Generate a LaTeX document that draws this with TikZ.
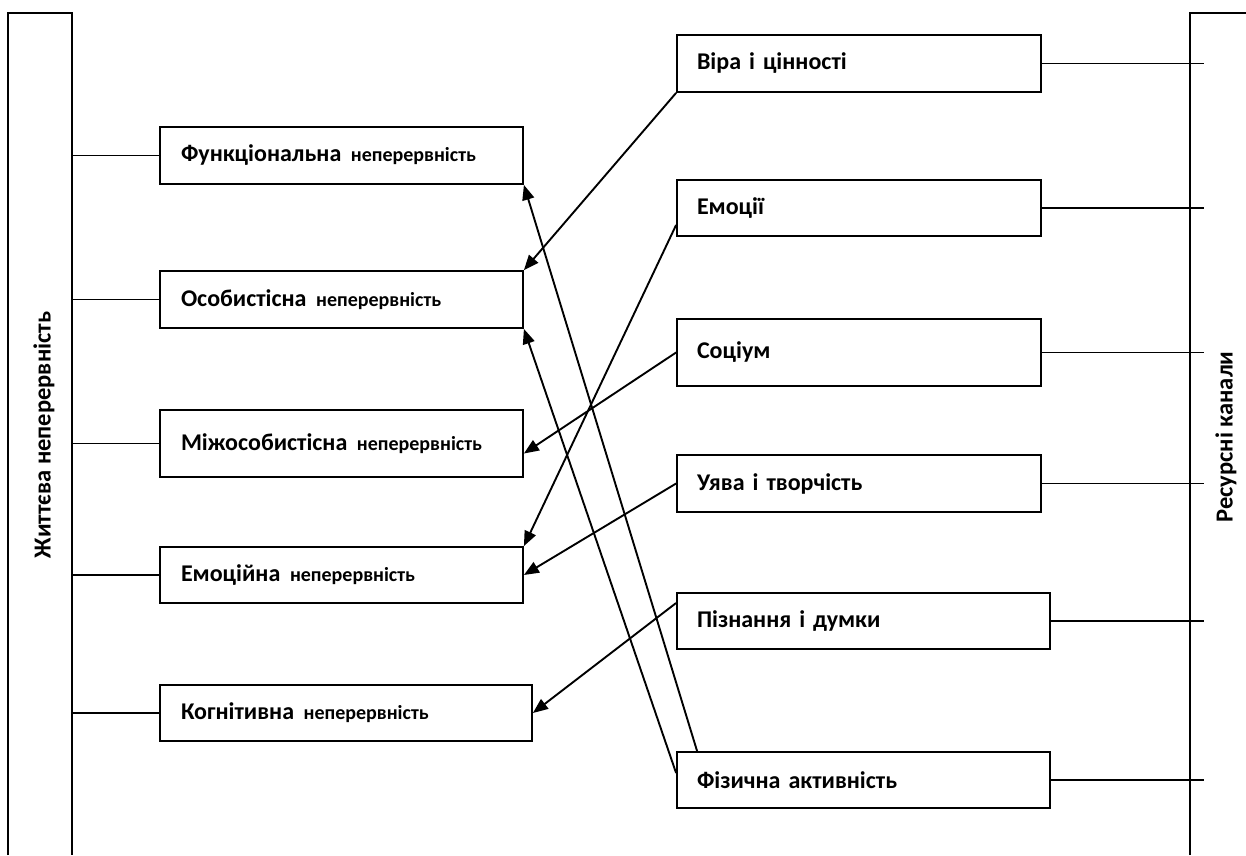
\documentclass[tikz,border=0pt]{standalone}
\usepackage{fontspec}
\setmainfont{Carlito}
\usepackage{tikz}
\usetikzlibrary{arrows.meta}
\newcommand{\nep}{\hspace{0.4em}{\fontsize{20}{23}\selectfont неперервність}}

\begin{document}
\begin{tikzpicture}[
  x=1pt,y=-1pt,
  cbox/.style={rectangle,draw,line width=1.8pt,minimum width=363pt,minimum height=57pt,
               inner xsep=21pt,text width=321pt,align=left,
               font=\bfseries\fontsize{24}{27}\selectfont},
  rbox/.style={cbox,inner xsep=20pt,text width=324pt},
  side/.style={rotate=90,font=\bfseries\fontsize{24.5}{27}\selectfont},
  link/.style={line width=1.9pt,-{Triangle[length=15pt,width=12pt]}},
  tick/.style={line width=1.5pt}
]
\useasboundingbox (0,0) rectangle (1246,855);
\draw[line width=1.8pt] (8,855) -- (8,13) -- (72,13) -- (72,855);
\draw[line width=1.6pt] (1190,855) -- (1190,13) -- (1246,13);
\coordinate (lb) at (72,0);
\coordinate (rb) at (1204,0);

\node[side] (lt) at (44,435) {Життєва неперервність};
\node[side] (rt) at (1226,437) {Ресурсні канали};

\node[cbox] (c1) at (341.5,155.5) {Функціональна\nep};
\node[cbox] (c2) at (341.5,299.5) {Особистісна\nep};
\node[cbox,minimum height=67pt] (c3) at (341.5,443.5) {Міжособистісна\nep};
\node[cbox,minimum height=56pt] (c4) at (341.5,575) {Емоційна\nep};
\node[cbox,minimum height=56pt,text width=330pt] (c5) at (346,713) {Когнітивна\nep};

\node[rbox] (r1) at (859,63.5) {Віра і цінності};
\node[rbox,minimum height=56pt] (r2) at (859,208) {Емоції};
\node[rbox,minimum height=67pt] (r3) at (859,352.5) {Соціум};
\node[rbox] (r4) at (859,483.5) {Уява і творчість};
\node[rbox,minimum height=56pt,text width=333pt] (r5) at (863.5,621) {Пізнання і думки};
\node[rbox,minimum height=56pt,text width=333pt] (r6) at (863.5,780) {Фізична активність};

\foreach \n in {c1,c2,c3,c4,c5}
  \draw[tick] (\n.west) -- (\n.west -| lb);
\foreach \n in {r1,r2,r3,r4,r5,r6}
  \draw[tick] (\n.east) -- (\n.east -| rb);

\draw[link] (r1.south west) -- (c2.north east);
\draw[link] ([yshift=-17pt]r2.west) -- (c4.north east);
\draw[link] (r3.west) -- ([yshift=-10pt]c3.east);
\draw[link] (r4.west) -- (c4.east);
\draw[link] ([yshift=18pt]r5.west) -- (c5.east);
\draw[link] ([xshift=21pt]r6.north west) -- (c1.south east);
\draw[link] ([yshift=7pt]r6.west) -- (c2.south east);
\end{tikzpicture}
\end{document}
